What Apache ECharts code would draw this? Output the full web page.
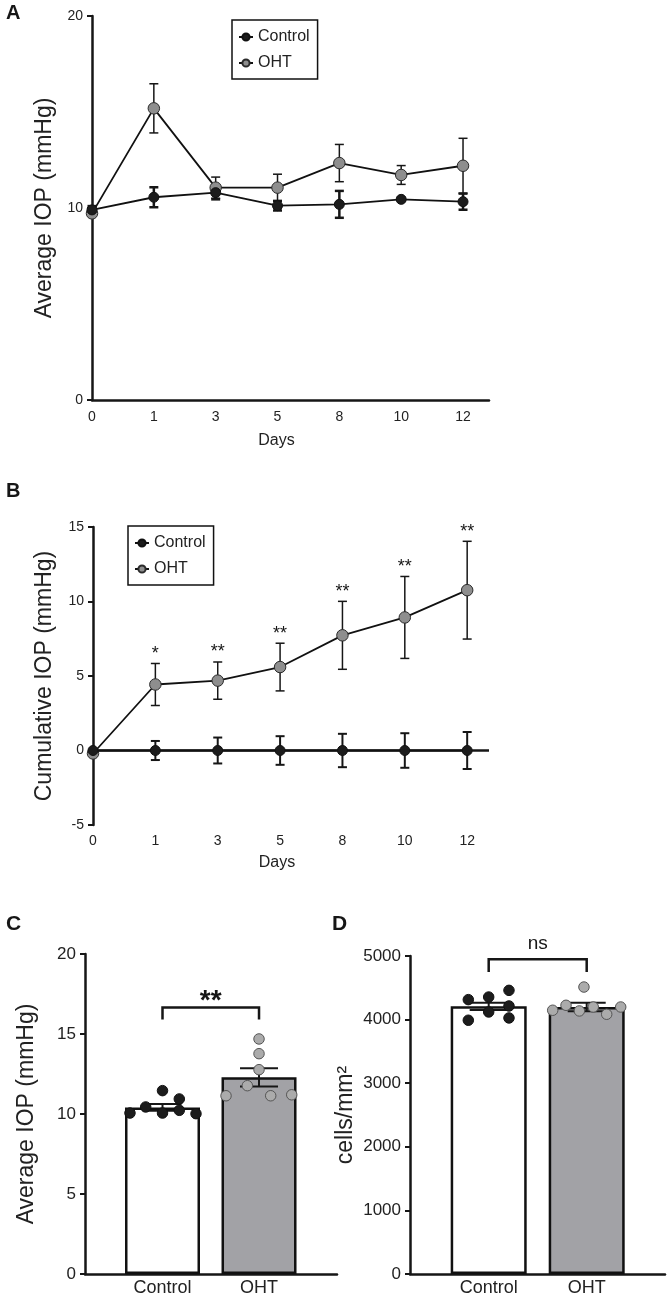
<!DOCTYPE html>
<html><head><meta charset="utf-8">
<script src="https://cdn.jsdelivr.net/npm/echarts@6/dist/echarts.min.js"></script>
<style>html,body{margin:0;padding:0;background:#fff}#c{width:668px;height:1300px}</style>
</head><body><div id="c"></div><script>
// ---------- data ----------
const days = ['0', '1', '3', '5', '8', '10', '12'];
// Panel A: average IOP (mmHg)
const aControlMean = [9.9, 10.56, 10.8, 10.12, 10.19, 10.45, 10.33];
const aControlSem  = [0.2, 0.52, 0.35, 0.25, 0.7, 0.08, 0.42];
const aOhtMean     = [9.72, 15.19, 11.06, 11.06, 12.34, 11.72, 12.2];
const aOhtSem      = [0.1, 1.28, 0.55, 0.7, 0.97, 0.49, 1.43];
// Panel B: cumulative IOP (mmHg)
const bControlMean = [0, 0, 0, 0, 0, 0, 0];
const bControlSem  = [0, 0.64, 0.87, 0.96, 1.12, 1.16, 1.24];
const bOhtMean     = [-0.2, 4.43, 4.69, 5.6, 7.73, 8.93, 10.76];
const bOhtSem      = [0, 1.41, 1.25, 1.6, 2.28, 2.75, 3.28];
const bStars       = ['', '*', '**', '**', '**', '**', '**'];
// Panel C: average IOP per eye
const groups = ['Control', 'OHT'];
const cControl = [10.06, 10.44, 11.46, 10.06, 10.94, 10.23, 10.02];
const cOht     = [11.14, 11.77, 14.69, 13.77, 12.77, 11.14, 11.2];
const cMean = [10.41, 12.29];
const cSem  = [0.21, 0.57];
const cSig  = '**';
const cBracketLevels = [15.9, 16.66];
// Panel D: cells/mm2
const dControl = [3990, 4314, 4355, 4120, 4460, 4214, 4026];
const dOht     = [4147, 4225, 4136, 4512, 4198, 4084, 4198];
const dMean = [4209, 4198];
const dSem  = [57, 65];
const dSig  = 'ns';
const dBracketLevels = [4748, 4947];
// horizontal scatter (jitter) offsets of the dots, in category units
const cControlJitter = [-0.337, -0.174, 0, 0, 0.174, 0.174, 0.347];
const cOhtJitter     = [-0.342, -0.121, 0, 0, 0, 0.121, 0.339];
const dControlJitter = [-0.208, -0.208, 0, 0, 0.207, 0.207, 0.207];
const dOhtJitter     = [-0.347, -0.211, -0.075, -0.028, 0.067, 0.204, 0.347];

// ---------- style ----------
const FONT = '"Liberation Sans", Arial, Helvetica, sans-serif';
const INK = '#161616';
const TXT = '#222';

function errRender(capHalf, lw, color) {
  return function (params, api) {
    const x = api.value(0), m = api.value(1), e = api.value(2);
    const t = api.coord([x, m + e]), b = api.coord([x, m - e]);
    const st = { stroke: color, lineWidth: lw };
    return { type: 'group', children: [
      { type: 'line', shape: { x1: t[0], y1: t[1], x2: b[0], y2: b[1] }, style: st },
      { type: 'line', shape: { x1: t[0] - capHalf, y1: t[1], x2: t[0] + capHalf, y2: t[1] }, style: st },
      { type: 'line', shape: { x1: b[0] - capHalf, y1: b[1], x2: b[0] + capHalf, y2: b[1] }, style: st }
    ]};
  };
}
function errSeries(idx, means, sems, capHalf, lw, z) {
  return { type: 'custom', name: 'err' + idx + '_' + z, xAxisIndex: idx, yAxisIndex: idx, z: z,
    silent: true, clip: false,
    renderItem: errRender(capHalf, lw, INK),
    data: means.map((m, i) => [i, m, sems[i]]) };
}
function bracketSeries(idx, levels, text, font, textLift) {
  return { type: 'custom', xAxisIndex: idx, yAxisIndex: idx, z: 6, silent: true, clip: false,
    renderItem: function (params, api) {
      const p0 = api.coord([0, levels[0]]), p1 = api.coord([0, levels[1]]);
      const q0 = api.coord([1, levels[0]]), q1 = api.coord([1, levels[1]]);
      return { type: 'group', children: [
        { type: 'polyline', shape: { points: [p0, p1, q1, q0] },
          style: { stroke: INK, lineWidth: 2.5, fill: null } },
        { type: 'text', x: (p1[0] + q1[0]) / 2, y: p1[1] - textLift,
          style: { text: text, font: font, fill: INK, align: 'center', verticalAlign: 'middle' } }
      ]};
    },
    data: [[0, levels[1]]] };
}
function yAx(gi, min, max, interval, name, gap, lblSize) {
  return { gridIndex: gi, type: 'value', min: min, max: max, interval: interval,
    axisLine: { show: true, onZero: false, lineStyle: { color: INK, width: 2.5 } },
    axisTick: { show: true, length: 5, lineStyle: { color: INK, width: 2 } },
    axisLabel: { fontSize: lblSize, color: TXT, margin: 9, fontFamily: FONT,
      formatter: v => String(v) },
    splitLine: { show: false },
    name: name, nameLocation: 'middle', nameRotate: 90, nameGap: gap,
    nameTextStyle: { fontSize: 23, color: TXT, fontFamily: FONT } };
}
function xDays(gi, max, showLine, nameGap, margin) {
  return { gridIndex: gi, type: 'value', min: 0, max: max,
    axisLine: { show: showLine, onZero: false, lineStyle: { color: INK, width: 2.5 } },
    axisTick: { show: false }, splitLine: { show: false },
    axisLabel: { customValues: [0, 1, 2, 3, 4, 5, 6], formatter: v => days[Math.round(v)],
      fontSize: 14, color: TXT, margin: margin, fontFamily: FONT },
    name: 'Days', nameLocation: 'middle', nameGap: nameGap,
    nameTextStyle: { fontSize: 16, color: TXT, fontFamily: FONT, padding: [0, 28, 0, 0] } };
}
function xGroups(gi, min, max) {
  return { gridIndex: gi, type: 'value', min: min, max: max,
    axisLine: { show: true, onZero: false, lineStyle: { color: INK, width: 2.5 } },
    axisTick: { show: false }, splitLine: { show: false },
    axisLabel: { customValues: [0, 1], formatter: v => groups[Math.round(v)],
      fontSize: 18, color: TXT, margin: 5, fontFamily: FONT } };
}
function dots(idx, values, jitter, center, color, border) {
  return { type: 'scatter', xAxisIndex: idx, yAxisIndex: idx, z: 5, silent: true,
    symbol: 'circle', symbolSize: 10.5,
    itemStyle: { color: color, borderColor: border, borderWidth: 1, opacity: 1 },
    data: values.map((v, k) => [center + jitter[k], v]) };
}
function legendAt(left, top) {
  return { left: left, top: top, orient: 'vertical', data: ['Control', 'OHT'],
    selectedMode: false, itemWidth: 14, itemHeight: 9, itemGap: 10,
    padding: [9, 8, 8, 6], borderColor: '#111', borderWidth: 1.5,
    textStyle: { fontSize: 16, color: TXT, fontFamily: FONT } };
}

const option = {
  animation: false,
  backgroundColor: '#fff',
  textStyle: { fontFamily: FONT },
  grid: [
    { left: 92, top: 16, width: 397, height: 384 },
    { left: 93, top: 527, width: 396, height: 298 },
    { left: 85, top: 954, width: 252, height: 320 },
    { left: 410, top: 956, width: 255, height: 318 }
  ],
  legend: [legendAt(232, 20), legendAt(128, 526)],
  xAxis: [
    xDays(0, 6.42, true, 33, 10),
    xDays(1, 6.35, false, 30, 9),
    xGroups(2, -0.803, 1.808),
    xGroups(3, -0.803, 1.799)
  ],
  yAxis: [
    yAx(0, 0, 20, 10, 'Average IOP (mmHg)', 36, 14),
    yAx(1, -5, 15, 5, 'Cumulative IOP (mmHg)', 37, 14),
    yAx(2, 0, 20, 5, 'Average IOP (mmHg)', 47, 17),
    yAx(3, 0, 5000, 1000, 'cells/mm\u00b2', 53, 17)
  ],
  graphic: [
    { type: 'text', left: 6, top: 3, style: { text: 'A', font: 'bold 20px ' + FONT, fill: INK } },
    { type: 'text', left: 6, top: 481, style: { text: 'B', font: 'bold 20px ' + FONT, fill: INK } },
    { type: 'text', left: 6, top: 914, style: { text: 'C', font: 'bold 21px ' + FONT, fill: INK } },
    { type: 'text', left: 332, top: 914, style: { text: 'D', font: 'bold 21px ' + FONT, fill: INK } }
  ],
  series: [
    // ---- A ----
    { name: 'Control', type: 'line', xAxisIndex: 0, yAxisIndex: 0, z: 5,
      data: aControlMean.map((v, i) => [i, v]), symbol: 'circle', symbolSize: 10,
      itemStyle: { color: '#1c1c1c', borderColor: '#111', borderWidth: 1 },
      lineStyle: { color: '#111', width: 1.8 } },
    { name: 'OHT', type: 'line', xAxisIndex: 0, yAxisIndex: 0, z: 4,
      data: aOhtMean.map((v, i) => [i, v]), symbol: 'circle', symbolSize: 11.5,
      itemStyle: { color: '#8e8e8e', borderColor: '#2a2a2a', borderWidth: 1 },
      lineStyle: { color: '#111', width: 1.8 } },
    errSeries(0, aControlMean, aControlSem, 4.5, 2.5, 3),
    errSeries(0, aOhtMean, aOhtSem, 4.5, 1.5, 2),
    // ---- B ----
    { name: 'Control', type: 'line', xAxisIndex: 1, yAxisIndex: 1, z: 5,
      data: bControlMean.map((v, i) => [i, v]), symbol: 'circle', symbolSize: 10,
      itemStyle: { color: '#1c1c1c', borderColor: '#111', borderWidth: 1 },
      lineStyle: { color: '#111', width: 1.8 },
      markLine: { silent: true, symbol: 'none', label: { show: false },
        lineStyle: { color: INK, width: 2.5, type: 'solid' }, data: [{ yAxis: 0 }] } },
    { name: 'OHT', type: 'line', xAxisIndex: 1, yAxisIndex: 1, z: 4,
      data: bOhtMean.map((v, i) => [i, v]), symbol: 'circle', symbolSize: 11.5,
      itemStyle: { color: '#8e8e8e', borderColor: '#2a2a2a', borderWidth: 1 },
      lineStyle: { color: '#111', width: 1.8 } },
    errSeries(1, bControlMean, bControlSem, 4.5, 2, 3),
    errSeries(1, bOhtMean, bOhtSem, 4.5, 1.5, 2),
    { type: 'custom', xAxisIndex: 1, yAxisIndex: 1, z: 6, silent: true, clip: false,
      renderItem: function (params, api) {
        const p = api.coord([api.value(0), api.value(1)]);
        return { type: 'text', x: p[0], y: p[1] - 9.5,
          style: { text: bStars[params.dataIndex], font: '18px ' + FONT, fill: INK,
            align: 'center', verticalAlign: 'middle' } };
      },
      data: bOhtMean.map((m, i) => [i, m + bOhtSem[i]]) },
    // ---- C ----
    { type: 'bar', xAxisIndex: 2, yAxisIndex: 2, z: 2, barWidth: 75, silent: true,
      itemStyle: { borderColor: '#111', borderWidth: 2.5 },
      data: cMean.map((m, i) => ({ value: [i, m], itemStyle: { color: i ? '#a2a2a6' : '#ffffff' } })) },
    errSeries(2, cMean, cSem, 19, 2, 3),
    dots(2, cControl, cControlJitter, 0, '#1c1c1c', '#111'),
    dots(2, cOht, cOhtJitter, 1, '#ababab', '#555'),
    bracketSeries(2, cBracketLevels, cSig, 'bold 28px ' + FONT, 6),
    // ---- D ----
    { type: 'bar', xAxisIndex: 3, yAxisIndex: 3, z: 2, barWidth: 76, silent: true,
      itemStyle: { borderColor: '#111', borderWidth: 2.5 },
      data: dMean.map((m, i) => ({ value: [i, m], itemStyle: { color: i ? '#a2a2a6' : '#ffffff' } })) },
    errSeries(3, dMean, dSem, 19, 2, 3),
    dots(3, dControl, dControlJitter, 0, '#1c1c1c', '#111'),
    dots(3, dOht, dOhtJitter, 1, '#ababab', '#555'),
    bracketSeries(3, dBracketLevels, dSig, '19px ' + FONT, 16)
  ]
};
const chart = echarts.init(document.getElementById('c'), null, { renderer: 'canvas' });
chart.setOption(option);
</script></body></html>
